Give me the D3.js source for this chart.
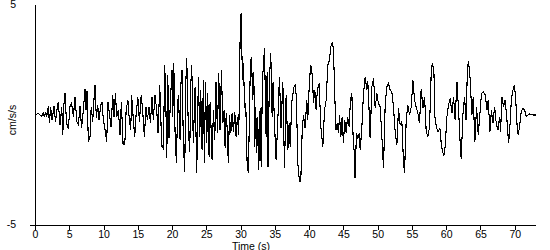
<!DOCTYPE html>
<html>
<head>
<meta charset="utf-8">
<script src="https://d3js.org/d3.v7.min.js"></script>
<style>
	body { margin: 0; background: #fff; }
	text { font-family: "Liberation Sans", Arial, sans-serif; font-size: 10.5px; fill: #000; }
	.trace { fill: none; stroke: #000; stroke-width: 1.1; shape-rendering: crispEdges; }
	.axisLine { stroke: #000; stroke-width: 1; shape-rendering: crispEdges; }
</style>
</head>
<body>
<script>
//time of each turning point of the trace (s)
var times = [
	0, 0.5, 0.73, 0.97, 1.2, 1.35, 1.56, 1.7, 1.95, 2.1, 2.28, 2.5, 2.77, 3.0, 3.26, 3.4, 3.65, 3.9, 4.05, 4.23,
	4.38, 4.6, 4.87, 5.1, 5.35, 5.6, 5.84, 6.1, 6.33, 6.57, 6.8, 7.05, 7.3, 7.45, 7.6, 7.78, 8.03, 8.2, 8.42, 8.6,
	8.76, 8.95, 9.15, 9.35, 9.59, 9.78, 9.97, 10.2, 10.46, 10.65, 10.85, 11.1, 11.34, 11.53, 11.73, 11.93, 12.17, 12.4, 12.6, 12.85,
	13.1, 13.3, 13.55, 13.77, 13.97, 14.1, 14.35, 14.55, 14.75, 15.0, 15.24, 15.5, 15.7, 15.96, 16.2, 16.4, 16.64, 16.84, 17.08, 17.27,
	17.5, 17.76, 17.95, 18.2, 18.4, 18.54, 18.73, 18.93, 19.08, 19.23, 19.37, 19.56, 19.76, 20.0, 20.1, 20.25, 20.44, 20.63, 20.83, 20.92,
	21.17, 21.3, 21.46, 21.65, 21.85, 22.0, 22.14, 22.38, 22.58, 22.72, 22.87, 23.1, 23.36, 23.6, 23.84, 24.04, 24.18, 24.38, 24.57, 24.72,
	24.87, 25.06, 25.2, 25.4, 25.55, 25.7, 25.84, 26.03, 26.23, 26.42, 26.62, 26.81, 27.0, 27.2, 27.4, 27.6, 27.74, 27.9, 28.08, 28.2,
	28.37, 28.57, 28.76, 28.95, 29.15, 29.34, 29.54, 29.73, 29.93, 30.07, 30.27, 30.41, 30.6, 30.75, 30.95, 31.14, 31.3, 31.43, 31.58, 31.78,
	31.92, 32.07, 32.2, 32.36, 32.5, 32.65, 32.85, 33.0, 33.19, 33.48, 33.72, 33.87, 34.0, 34.2, 34.4, 34.6, 34.74, 34.94, 35.18, 35.43,
	35.67, 35.9, 36.16, 36.4, 36.64, 36.9, 37.08, 37.23, 37.47, 37.8, 38.0, 38.15, 38.35, 38.59, 38.78, 38.98, 39.17, 39.4, 39.66, 39.8,
	40.05, 40.24, 40.48, 40.63, 40.83, 41.02, 41.2, 41.46, 41.7, 42.0, 42.24, 42.48, 42.73, 42.97, 43.16, 43.4, 43.55, 43.75, 43.9, 44.09,
	44.28, 44.43, 44.63, 44.82, 45.0, 45.2, 45.4, 45.6, 45.84, 46.03, 46.23, 46.42, 46.57, 46.7, 46.9, 47.1, 47.3, 47.45, 47.7, 47.93,
	48.18, 48.42, 48.56, 48.7, 48.9, 49.15, 49.4, 49.64, 49.88, 50.1, 50.36, 50.6, 50.85, 51.1, 51.34, 51.58, 51.82, 52.07, 52.3, 52.55,
	52.8, 53.04, 53.28, 53.53, 53.77, 53.92, 54.16, 54.4, 54.65, 54.9, 55.14, 55.38, 55.6, 55.87, 56.1, 56.35, 56.6, 56.84, 57.08, 57.33,
	57.57, 57.8, 57.96, 58.2, 58.35, 58.6, 58.83, 59.08, 59.27, 59.46, 59.66, 59.85, 60.1, 60.34, 60.58, 60.83, 61.07, 61.3, 61.56, 61.8,
	62.04, 62.19, 62.43, 62.67, 62.9, 63.1, 63.26, 63.5, 63.75, 63.94, 64.18, 64.43, 64.67, 64.92, 65.15, 65.4, 65.7, 65.94, 66.13, 66.38,
	66.6, 66.82, 67.06, 67.3, 67.55, 67.8, 67.93, 68.13, 68.37, 68.6, 68.86, 69.1, 69.24, 69.5, 69.74, 69.93, 70.12, 70.32, 70.5, 70.7,
	70.95, 71.2, 71.43, 71.68, 71.93, 72.16, 72.75, 73.1
];

//acceleration at each turning point (cm/s/s)
var accel = [
	0, 0.08, 0, -0.05, 0.1, -0.1, 0.15, -0.1, 0.41, -0.38, 0.38, -0.23, 0.41, -0.3, 0.35, 0.6, -0.45, 0.38, -0.91, 0.53,
	1.01, -0.38, -0.61, 0.38, 0.53, -0.08, 0.83, -0.3, -0.45, 0.41, -0.61, 0.23, 1.17, 0.23, 1.11, -1.21, -0.98, 0.38, -0.3, 0.68,
	1.36, -0.15, 0.45, -0.23, 0.45, 0.6, -0.23, -0.61, -1.21, 0.6, 0.08, -0.53, 0.91, -0.08, 0.98, -0.08, 0.23, -0.91, 0.6, -1.29,
	-1.36, 0.23, 0.68, -0.23, -0.68, 0.91, -0.23, -0.98, 0, 0.83, -0.3, 0.91, 0.23, -0.98, 0.38, -0.23, 0.38, -0.38, 0.83, -0.23,
	0.91, 0.23, -0.83, 1.36, -0.53, -1.44, -1.52, 2.27, 0.68, -1.97, 1.82, -1.06, 0.68, 2.05, -0.08, 2.35, -0.83, -2.2, 0.53, 0.91,
	-1.14, 1.44, 2.05, -1.29, -2.58, 1.44, 2.58, -0.68, -1.67, 1.29, 2.27, -1.29, 1.29, -2.65, 1.74, -0.98, 1.14, -1.59, 1.59, -2.2,
	1.52, -1.29, 0.98, -1.9, 0.6, -0.68, -2.05, 0.23, -1.14, 1.52, -0.83, 1.9, -0.68, 2.05, -0.38, 0.23, -1.52, 0.08, -0.83, -2.2,
	0, -0.83, 0.08, -0.76, 0.15, -0.98, -0.08, -0.91, 3.56, 4.62, 1.59, 2.35, 0.3, 0.53, -2.2, -2.65, 0.23, 2.35, 2.65, 0.68,
	1.97, -1.44, 0.38, -1.74, -0.08, -2.5, 0.3, -2.35, 1.59, 3.03, -0.98, 1.97, -2.35, 1.59, 2.8, -0.08, 1.52, -0.38, -2.05, -0.23,
	1.74, -0.61, 1.52, -2.42, 0.91, -1.59, -0.38, -1.44, 0.6, 1.29, 1.36, 0.68, -2.2, -3.03, -3.03, -0.76, 0, -0.61, 0.68, -0.23,
	1.59, 2.27, 1.74, 0.53, 1.14, 0.23, 1.14, 1.44, -0.53, -1.44, 0.23, 0.68, 2.27, 2.5, 3.1, 3.33, 2.95, 0.83, -0.68, -0.38,
	-0.83, 0, -0.98, -0.08, -1.29, -0.23, -0.83, -0.08, -0.53, 0.68, 0.98, -1.06, -1.67, -2.88, -0.83, -1.06, -0.83, -1.59, -0.53, 0.98,
	1.74, 1.14, 1.52, 0.6, -1.06, 1.29, 1.67, 0.3, 0.98, 0.53, 0.38, -0.91, -2.42, 0.53, 1.29, 1.44, 1.14, 1.06, 0.38, -0.76,
	-1.36, 0.3, -0.45, -0.3, -2.2, -2.62, -0.23, 0.45, 0, 0.38, 1.59, 0.68, 0.38, 0.08, -0.38, 1.2, 0.3, 0.83, -0.76, -0.98,
	-0.53, 1.82, 2.35, 2.05, -0.08, -0.61, -0.76, -0.61, -1.29, -1.67, -1.82, -1.44, -0.08, 0.45, 0.76, 0.08, 0.83, -0.23, 1.52, 0.23,
	-1.29, -2.02, 0, 0.83, -0.23, 2.2, 2.45, 1.59, 0, 0.83, -1.21, 0.38, -0.91, 0.08, 0.98, 1.06, 0.91, 0.23, 0.68, -0.76,
	0.23, -0.38, 0.38, -0.38, -0.68, -0.08, -0.76, 0.83, 0.38, 0.68, -0.23, -1.29, -0.83, 0.68, 1.14, 1.36, 0.83, -0.38, -0.91, -0.53,
	0.15, 0.3, 0.23, -0.08, 0, 0.05, 0, 0
];

//axis tick labels
var xTicks = [0, 5, 10, 15, 20, 25, 30, 35, 40, 45, 50, 55, 60, 65, 70];
var yTicks = [-5, 5];

//chart frame
var width = 550,
	height = 250,
	plotLeft = 35,
	plotRight = 536,
	plotTop = 5,
	plotBottom = 225;

var svg = d3.select("body")
	.append("svg")
	.attr("width", width)
	.attr("height", height);

//scales
var x = d3.scaleLinear()
	.domain([0, 73.1])
	.range([plotLeft, plotRight]);

var y = d3.scaleLinear()
	.domain([-5, 5])
	.range([plotBottom, plotTop]);

//accelerogram trace
var line = d3.line()
	.defined(function(d){ return d[1] != null; })
	.x(function(d){ return x(d[0]); })
	.y(function(d){ return y(d[1]); });

var points = times.map(function(t, i){ return [t, accel[i]]; });

svg.append("path")
	.datum(points)
	.attr("class", "trace")
	.attr("d", line);

//x axis
var xAxis = svg.append("g")
	.attr("transform", "translate(0," + (plotBottom + 0.5) + ")")
	.call(d3.axisBottom(x)
		.tickValues(xTicks)
		.tickSizeInner(4)
		.tickSizeOuter(0)
		.tickPadding(1));

xAxis.select(".domain").remove();
xAxis.selectAll("line").attr("class", "axisLine").attr("stroke", "#000");
xAxis.selectAll("text")
	.attr("font-family", null)
	.attr("font-size", null);

svg.append("line")
	.attr("class", "axisLine")
	.attr("x1", plotLeft - 5)
	.attr("x2", plotRight)
	.attr("y1", plotBottom + 0.5)
	.attr("y2", plotBottom + 0.5);

//y axis
svg.append("line")
	.attr("class", "axisLine")
	.attr("x1", plotLeft + 0.5)
	.attr("x2", plotLeft + 0.5)
	.attr("y1", plotTop)
	.attr("y2", plotBottom);

svg.selectAll(".yLabel")
	.data(yTicks)
	.enter()
	.append("text")
	.attr("class", "yLabel")
	.attr("x", 16)
	.attr("y", function(d){ return y(d) + (d > 0 ? 0.5 : 0); })
	.attr("text-anchor", "end")
	.attr("dominant-baseline", "middle")
	.text(function(d){ return d; });

//axis titles
svg.append("text")
	.attr("transform", "translate(16,120) rotate(-90)")
	.attr("text-anchor", "middle")
	.text("cm/s/s");

svg.append("text")
	.attr("x", 251)
	.attr("y", 249.5)
	.attr("text-anchor", "middle")
	.text("Time (s)");
</script>
</body>
</html>
